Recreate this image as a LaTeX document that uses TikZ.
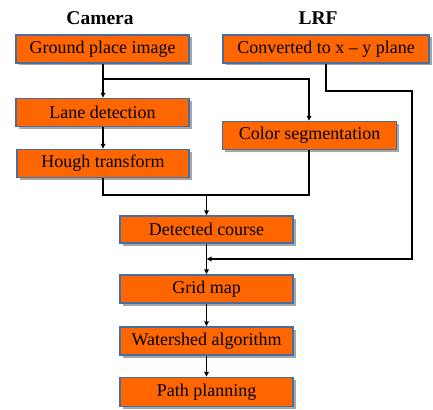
\documentclass[tikz,border=0pt]{standalone}
\usepackage{fontspec}
\setmainfont{Liberation Serif}
\usetikzlibrary{arrows.meta,shadows}
\definecolor{boxfill}{HTML}{FF6600}
\definecolor{boxline}{RGB}{70,110,160}
\begin{document}
\begin{tikzpicture}[x=1pt,y=-1pt,
  stepbox/.style={draw=boxline,line width=1.3pt,fill=boxfill,inner sep=0pt,
    minimum width=173pt,minimum height=28pt,font=\fontsize{18}{21}\selectfont,
    drop shadow={shadow xshift=2.5pt,shadow yshift=-2.5pt,opacity=0.35,fill=black}},
  header/.style={font=\fontsize{19.5}{22}\selectfont\bfseries},
  conn/.style={line width=1.3pt,draw=black},
  arr/.style={conn,-{Triangle[length=5pt,width=4.5pt]}}]
\useasboundingbox (0,0) rectangle (433,409);
\node[header] (cam) at (100,18) {Camera};
\node[header] (lrf) at (318,18) {LRF};
\node[stepbox] (gpi) at (102.5,49) {Ground place image};
\node[stepbox] (lane) at (102.5,112.5) {Lane detection};
\node[stepbox,minimum width=172pt] (hough) at (103,163.5) {Hough transform};
\node[stepbox,minimum width=206pt] (conv) at (326,49) {Converted to x -- y plane};
\node[stepbox,minimum width=174pt] (color) at (309.5,135.5) {Color segmentation};
\node[stepbox,minimum height=27pt] (det) at (206.5,229.5) {Detected course};
\node[stepbox] (grid) at (206.5,289) {Grid map};
\node[stepbox] (water) at (206.5,341) {Watershed algorithm};
\node[stepbox,minimum height=29pt] (path) at (206.5,392) {Path planning};
\coordinate (j1) at (103,79);
\coordinate (j2) at (309,195);
\coordinate (j3) at (206.5,195);
\coordinate (r1) at (412,91);
\coordinate (r2) at (206.5,259);
\draw[arr] (gpi.south -| j1) -- (lane.north -| j1);
\draw[arr] (j1) -| (color.north -| j2);
\draw[arr] (lane.south -| j1) -- (hough.north -| j1);
\draw[conn] (hough.south -| j1) |- (j2) -- (color.south -| j2);
\draw[arr] (j3) -- (det.north);
\draw[arr] (conv.south) |- (r1) |- (r2);
\draw[arr] (det) -- (grid);
\draw[arr] (grid) -- (water);
\draw[arr] (water) -- (path);
\end{tikzpicture}
\end{document}
